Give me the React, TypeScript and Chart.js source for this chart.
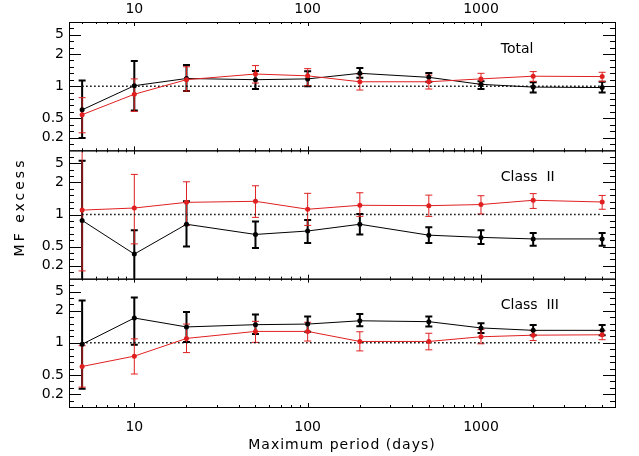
import { useEffect, useRef } from 'react';
import { Chart, registerables } from 'chart.js';

Chart.register(...registerables);

// maximum period (days) of each point
const periods = [5, 10, 20, 50, 100, 200, 500, 1000, 2000, 5000];
const xTickValues = [10, 100, 1000];
const yTickValues = [0.2, 0.5, 1, 2, 5];

// Total
const totalBlack = [0.6, 1.01, 1.18, 1.15, 1.17, 1.32, 1.21, 1.04, 0.98, 0.97];
const totalBlackHi = [1.13, 1.72, 1.58, 1.39, 1.38, 1.48, 1.33, 1.11, 1.09, 1.1];
const totalBlackLo = [0.195, 0.59, 0.9, 0.94, 1.0, 1.2, 1.1, 0.94, 0.87, 0.87];
const totalRed = [0.54, 0.84, 1.15, 1.3, 1.25, 1.1, 1.1, 1.17, 1.24, 1.23];
const totalRedHi = [0.78, 1.17, 1.52, 1.56, 1.46, 1.3, 1.27, 1.32, 1.37, 1.35];
const totalRedLo = [0.25, 0.58, 0.9, 1.07, 1.01, 0.92, 0.94, 1.04, 1.11, 1.11];

// Class II
const class2Black = [0.88, 0.35, 0.81, 0.65, 0.7, 0.81, 0.64, 0.61, 0.59, 0.59];
const class2BlackHi = [5.6, 0.71, 1.33, 0.86, 0.89, 1.01, 0.76, 0.71, 0.67, 0.67];
const class2BlackLo = [0.1, 0.1, 0.5, 0.47, 0.54, 0.65, 0.54, 0.53, 0.51, 0.51];
const class2Red = [1.1, 1.15, 1.3, 1.33, 1.12, 1.22, 1.21, 1.24, 1.36, 1.31];
const class2RedHi = [12, 2.93, 2.06, 1.86, 1.58, 1.6, 1.52, 1.5, 1.57, 1.51];
const class2RedLo = [0.157, 0.53, 0.79, 0.94, 0.79, 0.96, 0.96, 1.01, 1.14, 1.12];

// Class III
const class3Black = [0.97, 1.71, 1.41, 1.48, 1.5, 1.61, 1.58, 1.38, 1.31, 1.31];
const class3BlackHi = [3.26, 3.77, 1.95, 1.84, 1.77, 1.86, 1.77, 1.53, 1.47, 1.47];
const class3BlackLo = [0.26, 0.96, 1.02, 1.21, 1.27, 1.43, 1.42, 1.24, 1.18, 1.18];
const class3Red = [0.6, 0.75, 1.1, 1.28, 1.28, 1.03, 1.03, 1.14, 1.18, 1.19];
const class3RedHi = [0.94, 1.09, 1.5, 1.59, 1.56, 1.27, 1.23, 1.33, 1.3, 1.3];
const class3RedLo = [0.28, 0.51, 0.81, 1.01, 1.04, 0.84, 0.86, 0.98, 1.05, 1.07];

const BLACK = '#000000';
const RED = '#e02020';
const FONT = 'DejaVu Sans';
const X_MIN = 4.2;
const X_MAX = 5930;

// each panel spans 20 units of the shared y axis, 1.0 sits at its centre
const panels = [
  { name: 'Total', offset: 20, black: totalBlack, blackHi: totalBlackHi, blackLo: totalBlackLo, red: totalRed, redHi: totalRedHi, redLo: totalRedLo },
  { name: 'Class  II', offset: 0, black: class2Black, blackHi: class2BlackHi, blackLo: class2BlackLo, red: class2Red, redHi: class2RedHi, redLo: class2RedLo },
  { name: 'Class  III', offset: -20, black: class3Black, blackHi: class3BlackHi, blackLo: class3BlackLo, red: class3Red, redHi: class3RedHi, redLo: class3RedLo },
];

const LN2 = Math.log(2);
const LN25 = Math.log(2.5);

// the plot's y scale: 1 -> 0, 2 -> 5, 5 -> 8 (and mirrored for 1/x)
function mfToU(v: number): number {
  const a = Math.abs(Math.log(v));
  const u = a <= LN2 ? (5 * a) / LN2 : 5 + (3 * (a - LN2)) / LN25;
  return v < 1 ? -u : u;
}

const clampU = (u: number) => Math.max(-10, Math.min(10, u));

const plotPlugin = {
  id: 'mfPlot',
  beforeDatasetsDraw(chart: any) {
    const { ctx } = chart;
    const xs = chart.scales.x;
    const ys = chart.scales.y;
    ctx.save();
    panels.forEach((p) => {
      const series = [
        { hi: p.blackHi, lo: p.blackLo, color: BLACK, width: 2 },
        { hi: p.redHi, lo: p.redLo, color: RED, width: 1 },
      ];
      series.forEach((s) => {
        ctx.strokeStyle = s.color;
        ctx.lineWidth = s.width;
        periods.forEach((x, i) => {
          const px = xs.getPixelForValue(x);
          const uHi = mfToU(s.hi[i]);
          const uLo = mfToU(s.lo[i]);
          const yHi = ys.getPixelForValue(p.offset + clampU(uHi));
          const yLo = ys.getPixelForValue(p.offset + clampU(uLo));
          ctx.beginPath();
          ctx.moveTo(px, yHi);
          ctx.lineTo(px, yLo);
          if (uHi <= 10) {
            ctx.moveTo(px - 3.5, yHi);
            ctx.lineTo(px + 3.5, yHi);
          }
          if (uLo >= -10) {
            ctx.moveTo(px - 3.5, yLo);
            ctx.lineTo(px + 3.5, yLo);
          }
          ctx.stroke();
        });
      });
    });
    ctx.restore();
  },
  afterDraw(chart: any) {
    const { ctx, chartArea } = chart;
    const xs = chart.scales.x;
    const ys = chart.scales.y;
    const { left, right } = chartArea;
    ctx.save();
    ctx.strokeStyle = BLACK;
    ctx.fillStyle = BLACK;
    ctx.lineWidth = 1;

    const majorU = yTickValues.map(mfToU);
    const xMinor: number[] = [];
    [1, 10, 100, 1000].forEach((d) => {
      for (let m = 2; m <= 9; m++) {
        const v = m * d;
        if (v > X_MIN && v < X_MAX) xMinor.push(v);
      }
    });

    panels.forEach((p) => {
      const top = ys.getPixelForValue(p.offset + 10);
      const bottom = ys.getPixelForValue(p.offset - 10);
      ctx.strokeRect(left + 0.5, top + 0.5, right - left, bottom - top);

      ctx.beginPath();
      // y ticks, inward on both sides
      for (let u = -9; u <= 9; u++) {
        const py = Math.round(ys.getPixelForValue(p.offset + u)) + 0.5;
        const len = majorU.some((m) => Math.abs(m - u) < 0.01) ? 12 : 5;
        ctx.moveTo(left, py);
        ctx.lineTo(left + len, py);
        ctx.moveTo(right, py);
        ctx.lineTo(right - len, py);
      }
      // x ticks on top and bottom edge of the panel
      const xt = [
        ...xTickValues.map((v) => ({ v, len: 4 })),
        ...xMinor.map((v) => ({ v, len: 2 })),
      ];
      xt.forEach(({ v, len }) => {
        const px = Math.round(xs.getPixelForValue(v)) + 0.5;
        ctx.moveTo(px, top);
        ctx.lineTo(px, top + len);
        ctx.moveTo(px, bottom);
        ctx.lineTo(px, bottom - len);
      });
      ctx.stroke();

      ctx.font = `14px "${FONT}"`;
      ctx.textAlign = 'left';
      ctx.textBaseline = 'middle';
      ctx.fillText(p.name, xs.getPixelForValue(1300), ys.getPixelForValue(p.offset + 5.8));
    });

    // axis titles
    ctx.textAlign = 'center';
    ctx.textBaseline = 'middle';
    (ctx as any).letterSpacing = '1px';
    ctx.fillText('Maximum period (days)', (left + right) / 2, 445);
    ctx.translate(20, 207);
    ctx.rotate(-Math.PI / 2);
    (ctx as any).letterSpacing = '3px';
    ctx.fillText('MF excess', 0, 0);
    ctx.restore();
  },
};

const tickFont = { family: FONT, size: 14 };

export default function App() {
  const canvasRef = useRef<HTMLCanvasElement>(null);

  useEffect(() => {
    if (!canvasRef.current) return;

    const datasets: any[] = [];
    panels.forEach((p) => {
      datasets.push({
        label: `${p.name} red`,
        data: periods.map((x, i) => ({ x, y: p.offset + mfToU(p.red[i]) })),
        borderColor: RED,
        backgroundColor: RED,
        borderWidth: 1,
        pointRadius: 2.5,
        pointBorderWidth: 0,
        order: 0,
      });
      datasets.push({
        label: `${p.name} black`,
        data: periods.map((x, i) => ({ x, y: p.offset + mfToU(p.black[i]) })),
        borderColor: BLACK,
        backgroundColor: BLACK,
        borderWidth: 1,
        pointRadius: 2.5,
        pointBorderWidth: 0,
        order: 1,
      });
      datasets.push({
        label: `${p.name} unity`,
        data: [
          { x: periods[0], y: p.offset + mfToU(1) },
          { x: periods[periods.length - 1], y: p.offset + mfToU(1) },
        ],
        borderColor: BLACK,
        borderWidth: 1.5,
        borderDash: [1.5, 2.5],
        pointRadius: 0,
        order: 2,
      });
    });

    // y tick positions for all three panels, bottom to top
    const yTickPositions: number[] = [];
    [...panels].reverse().forEach((p) => {
      yTickValues.forEach((v) => yTickPositions.push(p.offset + mfToU(v)));
    });

    const xAxis = (position: string, height: number, padding: number) => ({
      type: 'logarithmic',
      position,
      min: X_MIN,
      max: X_MAX,
      afterBuildTicks: (s: any) => {
        s.ticks = xTickValues.map((v) => ({ value: v }));
      },
      afterFit: (s: any) => {
        s.height = height;
      },
      grid: { display: false, drawTicks: false },
      border: { display: false },
      ticks: {
        padding,
        autoSkip: false,
        maxRotation: 0,
        color: BLACK,
        font: tickFont,
        callback: (v: any) => String(v),
      },
    });

    const chart = new Chart(canvasRef.current, {
      type: 'line',
      data: { datasets },
      options: {
        animation: false,
        responsive: true,
        maintainAspectRatio: false,
        events: [],
        layout: { padding: { left: 0, right: 24, top: 0, bottom: 0 } },
        plugins: {
          legend: { display: false },
          tooltip: { enabled: false },
        },
        scales: {
          x: xAxis('bottom', 49, 12) as any,
          x2: xAxis('top', 22, 4) as any,
          y: {
            type: 'linear',
            min: -30,
            max: 30,
            afterBuildTicks: (s: any) => {
              s.ticks = yTickPositions.map((v) => ({ value: v }));
            },
            afterFit: (s: any) => {
              s.width = 69;
            },
            grid: { display: false, drawTicks: false },
            border: { display: false },
            ticks: {
              padding: 5,
              autoSkip: false,
              color: BLACK,
              font: tickFont,
              callback: (_v: any, i: number) => String(yTickValues[i % yTickValues.length]),
            },
          },
        },
      },
      plugins: [plotPlugin],
    });

    return () => {
      chart.destroy();
    };
  }, []);

  return (
    <div style={{ position: 'absolute', left: 0, top: 0, width: 639, height: 456, background: '#fff' }}>
      <canvas ref={canvasRef}></canvas>
    </div>
  );
}
